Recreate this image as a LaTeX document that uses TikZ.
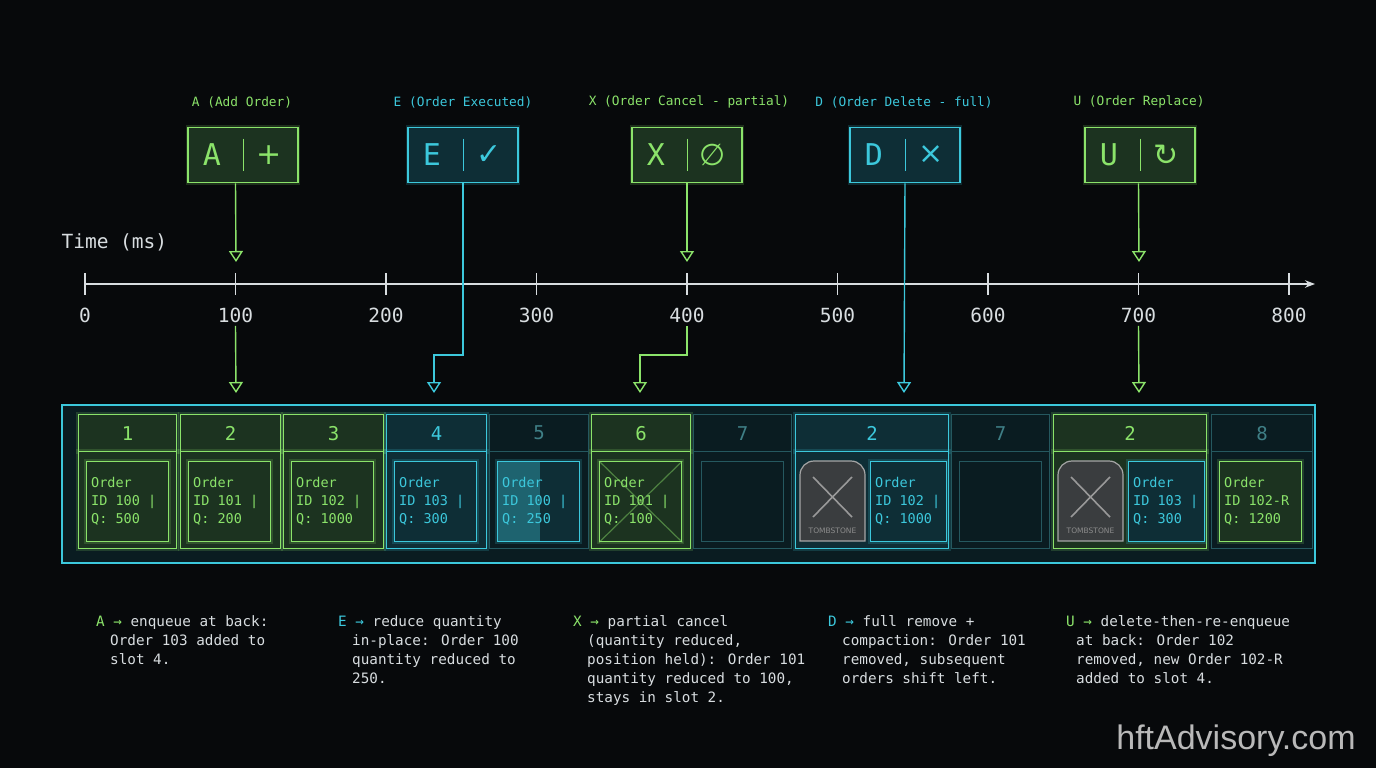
\documentclass[tikz,border=0pt]{standalone}
\usepackage{fontspec}
\setmainfont{DejaVu Sans Mono}
\newfontfamily\symfont{DejaVu Sans}
\newfontfamily\brandfont{Liberation Sans}
\usetikzlibrary{arrows.meta,positioning}

\definecolor{bgc}{HTML}{07090B}
\definecolor{grn}{HTML}{8BE36A}
\definecolor{grnf}{HTML}{1C3320}
\definecolor{cyn}{HTML}{3CC8DC}
\definecolor{cynf}{HTML}{0E2E36}
\definecolor{dim}{HTML}{25585F}
\definecolor{dimf}{HTML}{0A1C21}
\definecolor{dimt}{HTML}{3F7F86}
\definecolor{txt}{HTML}{D8DDE0}
\definecolor{tomb}{HTML}{3A3D3F}

\begin{document}
\begin{tikzpicture}[x=1pt,y=-1pt,
    glow/.style = {preaction={draw, line width=4.5pt, opacity=0.18}},
    gslot/.style = {draw=grn, fill=grnf, line width=1.4pt, glow, text=grn},
    cslot/.style = {draw=cyn, fill=cynf, line width=1.4pt, glow, text=cyn},
    dslot/.style = {draw=dim, fill=dimf, line width=1.2pt, text=dimt},
    hdr/.style = {anchor=north west, minimum height=37pt, inner sep=0pt,
      font=\fontsize{19}{19}\selectfont},
    body/.style = {anchor=north west, minimum height=97pt, inner sep=0pt},
    obox/.style = {anchor=north west, minimum width=82pt, minimum height=80pt, inner sep=0pt},
    otext/.style = {align=left, anchor=west, inner sep=0pt,
      font=\fontsize{13.5}{18}\selectfont},
    icon/.style = {draw, line width=1.6pt, glow, minimum width=110pt,
      minimum height=55pt, inner sep=0pt},
    head/.style = {font=\fontsize{12.8}{16}\selectfont},
    tick/.style = {font=\fontsize{19.5}{20}\selectfont, text=txt},
    note/.style = {align=left, anchor=north west, inner sep=0pt, text=txt,
      font=\fontsize{14.3}{19}\selectfont},
    arr/.style = {line width=1.4pt, -{Triangle[open,length=11pt,width=14pt]}},
    tombst/.style = {draw=gray!70, fill=tomb, line width=1.2pt}
  ]
  \fill[bgc] (0,0) rectangle (1376,768);

  % event headers
  \node[head, text=grn] (hA) at (242,102) {A (Add Order)};
  \node[head, text=cyn] (hE) at (463,102) {E (Order Executed)};
  \node[head, text=grn] (hX) at (689,102) {X (Order Cancel - partial)};
  \node[head, text=cyn] (hD) at (904,102) {D (Order Delete - full)};
  \node[head, text=grn] (hU) at (1139,102) {U (Order Replace)};

  \node[icon, draw=grn, fill=grnf] (iA) at (243,155) {};
  \node[icon, draw=cyn, fill=cynf] (iE) at (463,155) {};
  \node[icon, draw=grn, fill=grnf] (iX) at (687,155) {};
  \node[icon, draw=cyn, fill=cynf] (iD) at (905,155) {};
  \node[icon, draw=grn, fill=grnf] (iU) at (1140,155) {};
  \foreach \i/\l/\s/\c in {A/A/+/grn, E/E/✓/cyn, X/X/∅/grn, D/D/×/cyn, U/U/↻/grn}{
    \node[text=\c, font=\fontsize{30}{30}\selectfont] at ([xshift=-31pt]i\i.center) {\l};
    \draw[\c, line width=1pt] ([yshift=-12pt]i\i.north) -- ([yshift=12pt]i\i.south);
    \node[text=\c, font=\symfont\fontsize{30}{30}\selectfont] at ([xshift=26pt]i\i.center) {\s};
  }

  % timeline
  \node[tick, anchor=west] (tl) at (58,242) {Time (ms)};
  \coordinate (t0) at (85,284);
  \coordinate (tend) at (1315,284);
  \draw[txt, line width=1.2pt, -{Stealth[length=10pt]}] (t0) -- (tend);
  \foreach \i in {0,...,8}{
    \coordinate (t\i) at (85+150.5*\i,284);
    \draw[txt, line width=1.2pt] ([yshift=11pt]t\i) -- ([yshift=-11pt]t\i);
    \pgfmathtruncatemacro\v{100*\i}
    \node[tick] (l\i) at (85+150.5*\i,315) {\v};
  }

  % event arrows
  \draw[arr, grn] (iA.south -| t1) -- (236,262);
  \draw[arr, grn] (iX.south -| t4) -- (687,262);
  \draw[arr, grn] (iU.south -| t7) -- (1139,262);
  \draw[arr, grn] (l1.south) -- (236,393);
  \draw[arr, grn] (l4.south) -- (687,355) -- (640,355) -- (640,393);
  \draw[arr, grn] (l7.south) -- (1139,393);
  \draw[arr, cyn] (iE.south) -- (463,355) -- (434,355) -- (434,393);
  \draw[arr, cyn] (iD.south) -- (904,393);

  % queue container
  \draw[cyn, line width=1.6pt, glow, fill=dimf] (62,405) rectangle (1315,563);

  % plain slots
  \foreach \n/\xa/\w/\lab/\st/\bx/\tc/\id/\q in {1/78/98/1/g/g/grn/100/500, 2/180/100/2/g/g/grn/101/200,
      3/283/100/3/g/g/grn/102/1000, 4/386/100/4/c/c/cyn/103/300, 5/489/99/5/d/c/cyn/100/250,
      6/591/99/6/g/g/grn/101/100, 11/1211/101/8/d/g/grn/102-R/1200}{
    \node[\st slot, hdr, minimum width=\w pt] (h\n) at (\xa,414) {\lab};
    \node[\st slot, body, minimum width=\w pt] (b\n) at (\xa,451) {};
    \node[\bx slot, obox] (o\n) at ([shift={(8pt,-10pt)}]b\n.north west) {};
    \node[otext, text=\tc] at ([xshift=5pt]o\n.west) {Order\\ID \id\ifnum\n<11{} |\fi\\Q: \q};
  }
  \fill[cyn, opacity=0.35] (o5.north west) rectangle ([xshift=-40pt]o5.south east);
  \draw[grn, opacity=0.45, line width=1.2pt] (o6.north west) -- (o6.south east) (o6.south west) -- (o6.north east);

  % empty slots
  \foreach \n/\xa/\w in {7/693/98, 9/951/98}{
    \node[dslot, hdr, minimum width=\w pt] (h\n) at (\xa,414) {7};
    \node[dslot, body, minimum width=\w pt] (b\n) at (\xa,451) {};
    \node[dslot, obox, fill=none] (o\n) at ([shift={(8pt,-10pt)}]b\n.north west) {};
  }

  % slots with tombstones
  \foreach \n/\xa/\st/\id/\q in {8/795/c/102/1000, 10/1053/g/103/300}{
    \node[\st slot, hdr, minimum width=153pt] (h\n) at (\xa,414) {2};
    \node[\st slot, body, minimum width=153pt] (b\n) at (\xa,451) {};
    \draw[tombst] (\xa+5,541) {[rounded corners=14pt] -- (\xa+5,461) -- (\xa+70,461)} -- (\xa+70,541) -- cycle;
    \draw[gray!80, line width=1.6pt] (\xa+18,477) -- (\xa+57,517) (\xa+18,517) -- (\xa+57,477);
    \node[text=gray!90, font=\symfont\fontsize{7.5}{8}\selectfont] at (\xa+37.5,531) {TOMBSTONE};
    \node[cslot, obox, minimum width=76pt] (o\n) at (\xa+75,461) {};
    \node[otext, text=cyn] at ([xshift=5pt]o\n.west) {Order\\ID \id{} |\\Q: \q};
  }

  % notes
  \node[note] (nA) at (96,615) {\textcolor{grn}{A →} enqueue at back:\\\hspace*{14pt}Order 103 added to\\\hspace*{14pt}slot 4.};
  \node[note] (nE) at (338,615) {\textcolor{cyn}{E →} reduce quantity\\\hspace*{14pt}in-place: Order 100\\\hspace*{14pt}quantity reduced to\\\hspace*{14pt}250.};
  \node[note] (nX) at (573,615) {\textcolor{grn}{X →} partial cancel\\\hspace*{14pt}(quantity reduced,\\\hspace*{14pt}position held): Order 101\\\hspace*{14pt}quantity reduced to 100,\\\hspace*{14pt}stays in slot 2.};
  \node[note] (nD) at (828,615) {\textcolor{cyn}{D →} full remove +\\\hspace*{14pt}compaction: Order 101\\\hspace*{14pt}removed, subsequent\\\hspace*{14pt}orders shift left.};
  \node[note] (nU) at (1066,615) {\textcolor{grn}{U →} delete-then-re-enqueue\\\hspace*{10pt}at back: Order 102\\\hspace*{10pt}removed, new Order 102-R\\\hspace*{10pt}added to slot 4.};

  \node[text=gray!55, font=\brandfont\fontsize{34}{34}\selectfont] (brand) at (1236,741) {hftAdvisory.com};
\end{tikzpicture}
\end{document}
